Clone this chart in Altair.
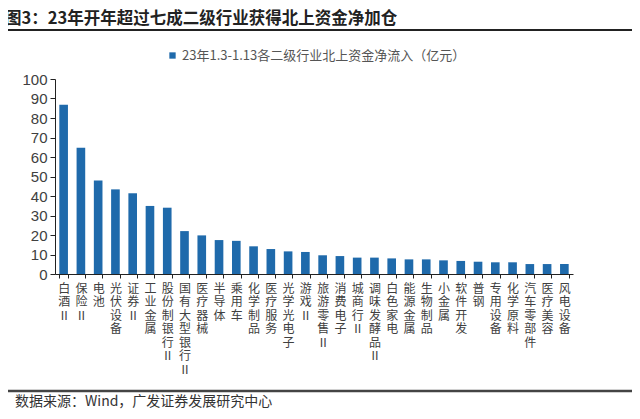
import altair as alt
import pandas as pd

categories = ["白酒Ⅱ", "保险Ⅱ", "电池", "光伏设备", "证券Ⅱ", "工业金属", "股份制银行Ⅱ",
              "国有大型银行Ⅱ", "医疗器械", "半导体", "乘用车", "化学制品", "医疗服务",
              "光学光电子", "游戏Ⅱ", "旅游零售Ⅱ", "消费电子", "城商行Ⅱ", "调味发酵品Ⅱ",
              "白色家电", "能源金属", "生物制品", "小金属", "软件开发", "普钢", "专用设备",
              "化学原料", "汽车零部件", "医疗美容", "风电设备"]
values = [86.8, 64.8, 48.0, 43.4, 41.4, 34.9, 34.0, 22.0, 19.8, 17.4, 17.0, 14.2, 12.8,
          11.6, 11.3, 9.6, 9.2, 8.4, 8.4, 8.0, 7.5, 7.5, 7.0, 6.7, 6.3, 6.0, 6.0, 5.1, 5.1, 5.1]
y_ticks = [0, 10, 20, 30, 40, 50, 60, 70, 80, 90, 100]
title_text = "图3：23年开年超过七成二级行业获得北上资金净加仓"
legend_label = "23年1.3-1.13各二级行业北上资金净流入（亿元）"
source_text = "数据来源：Wind，广发证券发展研究中心"

CJK = "Noto Sans CJK SC"
BLUE = "#1f6aab"

df = pd.DataFrame({"industry": categories, "value": values, "series": [legend_label] * len(categories)})
one = pd.DataFrame({"t": [title_text], "s": [source_text]})

bars = alt.Chart(df).mark_bar().encode(
    x=alt.X("industry:N", sort=categories,
            scale=alt.Scale(paddingInner=0.5, paddingOuter=0.25),
            axis=alt.Axis(title=None, labelAngle=0, labelExpr="split(datum.label, '')",
                          labelAlign="center", labelBaseline="top", labelLineHeight=13.5,
                          labelFontSize=12, labelFont=CJK, labelColor="#404040",
                          labelPadding=5, tickSize=4, tickBand="extent",
                          domainColor="#222222", tickColor="#222222",
                          labelOverlap=False, labelBound=False, labelFlush=False)),
    y=alt.Y("value:Q", scale=alt.Scale(domain=[0, 100], nice=False),
            axis=alt.Axis(values=y_ticks, title=None, grid=False, labelFontSize=15,
                          labelFont="Liberation Sans", labelColor="#404040",
                          labelPadding=3, tickSize=5, domainColor="#222222",
                          tickColor="#222222")),
    color=alt.Color("series:N", scale=alt.Scale(range=[BLUE]),
                    legend=alt.Legend(title=None, orient="none", legendX=111, legendY=-30,
                                      symbolType="square", symbolSize=40, symbolStrokeWidth=0,
                                      labelFont=CJK, labelFontSize=13, labelColor="#555555",
                                      labelOffset=3, padding=0, labelLimit=400)),
)

title = alt.Chart(one).mark_text(align="left", baseline="middle", font=CJK, fontSize=16.5,
                                 fontWeight="bold", color="#222222").encode(
    text="t:N", x=alt.value(-50), y=alt.value(-60))

top_line = alt.Chart(one).mark_rule(color="#222222", strokeWidth=2).encode(
    x=alt.value(-50), x2=alt.value(580), y=alt.value(-49))

bottom_line = alt.Chart(one).mark_rule(color="#444444", strokeWidth=2.5).encode(
    x=alt.value(-52), x2=alt.value(580), y=alt.value(312))

source = alt.Chart(one).mark_text(align="left", baseline="middle", font=CJK, fontSize=14,
                                  color="#333333").encode(
    text="s:N", x=alt.value(-40), y=alt.value(323))

chart = alt.layer(bars, title, top_line, bottom_line, source).properties(
    width=518, height=195,
    padding={"left": 47, "top": 71, "right": 59, "bottom": 137},
    autosize=alt.AutoSizeParams(type="none"),
).configure_view(stroke=None)

chart.save("out.html", embed_options={"renderer": "svg", "actions": False})
